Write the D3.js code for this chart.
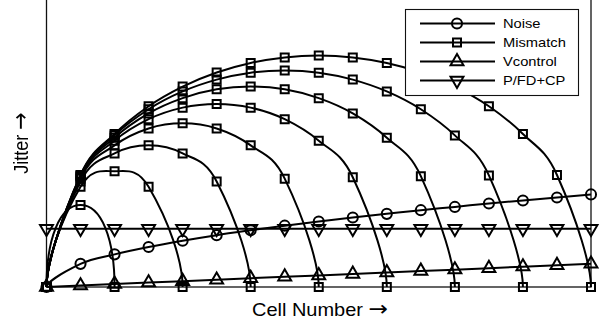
<!DOCTYPE html>
<meta charset="utf-8">
<style>
  body { margin: 0; background: #fff; }
  text { font-family: "Liberation Sans", Arial, Helvetica, sans-serif; fill: #000; }
  .arrow { font-family: "DejaVu Sans", sans-serif; }
</style>
<body></body>
<script src="https://cdn.jsdelivr.net/npm/d3@7"></script>
<script>

const width = 607;
const height = 325;

// cell index along the ring
const cells = [0, 1, 2, 3, 4, 5, 6, 7, 8, 9, 10, 11, 12, 13, 14, 15, 16];

// jitter contributions (arbitrary units)
const noise    = [0, 1.00, 1.41, 1.73, 2.00, 2.24, 2.45, 2.65, 2.83, 3.00, 3.16, 3.32, 3.46, 3.61, 3.74, 3.87, 4.00];
const vcontrol = [0, 0.06, 0.13, 0.19, 0.25, 0.31, 0.38, 0.44, 0.50, 0.56, 0.63, 0.69, 0.75, 0.81, 0.88, 0.94, 1.00];
const pfdcp    = [2.52, 2.52, 2.52, 2.52, 2.52, 2.52, 2.52, 2.52, 2.52, 2.52, 2.52, 2.52, 2.52, 2.52, 2.52, 2.52, 2.52];

// mismatch, one arc per ring length (2, 4, ... 16 cells)
const mismatch2  = [0, 3.54, 0];
const mismatch4  = [0, 4.33, 5.00, 4.33, 0];
const mismatch6  = [0, 4.56, 5.77, 6.12, 5.77, 4.56, 0];
const mismatch8  = [0, 4.68, 6.12, 6.85, 7.07, 6.85, 6.12, 4.68, 0];
const mismatch10 = [0, 4.74, 6.32, 7.25, 7.75, 7.91, 7.75, 7.25, 6.32, 4.74, 0];
const mismatch12 = [0, 4.79, 6.45, 7.50, 8.16, 8.54, 8.66, 8.54, 8.16, 7.50, 6.45, 4.79, 0];
const mismatch14 = [0, 4.82, 6.55, 7.68, 8.45, 8.96, 9.26, 9.35, 9.26, 8.96, 8.45, 7.68, 6.55, 4.82, 0];
const mismatch16 = [0, 4.84, 6.61, 7.81, 8.66, 9.27, 9.68, 9.92, 10.00, 9.92, 9.68, 9.27, 8.66, 7.81, 6.61, 4.84, 0];
const mismatch = [mismatch2, mismatch4, mismatch6, mismatch8, mismatch10, mismatch12, mismatch14, mismatch16];

const legendNames = ["Noise", "Mismatch", "Vcontrol", "P/FD+CP"];

const x = d3.scaleLinear().domain([0, 16]).range([46.5, 591]);
const y = d3.scaleLinear().domain([0, 12.4]).range([287, 0]);

const svg = d3.select("body").append("svg")
    .attr("width", width)
    .attr("height", height);

// plain pass-through filter, keeps the rotated title greyscale-antialiased
svg.append("defs").append("filter")
    .attr("id", "flat")
  .append("feColorMatrix")
    .attr("type", "identity");

// frame
svg.append("rect")
    .attr("x", x(0))
    .attr("y", -5)
    .attr("width", x(16) - x(0))
    .attr("height", y(0) + 5)
    .attr("fill", "none")
    .attr("stroke", "#111")
    .attr("stroke-width", 1.3);

// smooth curve through the points; optional vertical tangent at either end
function smoothPath(pts, vStart, vEnd) {
  const p = d3.path();
  const n = pts.length;
  const k = 0.6;
  const m = pts.map((q, i) => {
    const a = pts[Math.max(i - 1, 0)], b = pts[Math.min(i + 1, n - 1)];
    const s = (i === 0 || i === n - 1) ? 1 : 0.5;
    return [(b[0] - a[0]) * s, (b[1] - a[1]) * s];
  });
  const cubic = (a, c, b) => p.bezierCurveTo(
    a[0] + k * (c[0] - a[0]), a[1] + k * (c[1] - a[1]),
    b[0] + k * (c[0] - b[0]), b[1] + k * (c[1] - b[1]),
    b[0], b[1]);
  p.moveTo(pts[0][0], pts[0][1]);
  for (let i = 0; i < n - 1; i++) {
    const a = pts[i], b = pts[i + 1];
    if (i === 0 && vStart) {
      const t = (b[0] - a[0]) / m[i + 1][0];
      cubic(a, [a[0], b[1] - m[i + 1][1] * t], b);
    } else if (i === n - 2 && vEnd) {
      const t = (b[0] - a[0]) / m[i][0];
      cubic(a, [b[0], a[1] + m[i][1] * t], b);
    } else {
      p.bezierCurveTo(a[0] + m[i][0] / 3, a[1] + m[i][1] / 3,
                      b[0] - m[i + 1][0] / 3, b[1] - m[i + 1][1] / 3, b[0], b[1]);
    }
  }
  return p.toString();
}

const toPts = vals => vals.map((v, i) => [x(cells[i]), y(v)]);
const straight = d3.line().x((d, i) => x(cells[i])).y(d => y(d));

const lines = svg.append("g")
    .attr("fill", "none")
    .attr("stroke", "#000")
    .attr("stroke-width", 2);

lines.selectAll(".mm")
  .data(mismatch)
  .join("path")
    .attr("d", d => smoothPath(toPts(d), true, true));

lines.append("path").attr("d", smoothPath(toPts(noise), true, false));
lines.append("path").attr("d", straight(vcontrol));
lines.append("path").attr("d", straight(pfdcp));

// marker shapes
const sym = {
  circle: d3.symbol().type(d3.symbolCircle).size(80),
  square: d3.symbol().type(d3.symbolSquare).size(64),
  up:     d3.symbol().type(d3.symbolTriangle).size(72)
};

function markers(vals, shape, rot) {
  svg.append("g")
      .attr("fill", "none")
      .attr("stroke", "#000")
      .attr("stroke-width", 2)
    .selectAll("path")
    .data(vals)
    .join("path")
      .attr("d", sym[shape]())
      .attr("transform", (d, i) => `translate(${x(cells[i])},${y(d)})${rot ? " rotate(180)" : ""}`);
}

mismatch.forEach(a => markers(a, "square"));
markers(noise, "circle");
markers(vcontrol, "up");
markers(pfdcp, "up", true);

// legend
const lg = svg.append("g");
lg.append("rect")
    .attr("x", 405.5).attr("y", 9.5)
    .attr("width", 173).attr("height", 86)
    .attr("fill", "#fff")
    .attr("stroke", "#111")
    .attr("stroke-width", 1.1);

const legendShapes = [["circle", false], ["square", false], ["up", false], ["up", true]];
legendNames.forEach((name, i) => {
  const ly = 23.5 + i * 19;
  lg.append("line")
      .attr("x1", 420).attr("x2", 495)
      .attr("y1", ly).attr("y2", ly)
      .attr("stroke", "#000").attr("stroke-width", 2);
  lg.append("path")
      .attr("d", sym[legendShapes[i][0]]())
      .attr("transform", `translate(457,${ly})${legendShapes[i][1] ? " rotate(180)" : ""}`)
      .attr("fill", "none").attr("stroke", "#000").attr("stroke-width", 2);
  lg.append("text")
      .attr("transform", `translate(503,${ly + 4.7}) scale(1.13,1)`)
      .attr("font-size", 13)
      .text(name);
});

// axis titles
const xt = svg.append("text")
    .attr("transform", "translate(320,316) scale(1.11,1)")
    .attr("text-anchor", "middle")
    .attr("font-size", 18);
xt.append("tspan").text("Cell Number ");
xt.append("tspan").attr("class", "arrow").attr("font-size", 21).text("\u2192");

const yt = svg.append("g")
    .attr("filter", "url(#flat)")
  .append("text")
    .attr("transform", "translate(28,143) rotate(-90) scale(1,1.12)")
    .attr("text-anchor", "middle")
    .attr("font-size", 18);
yt.append("tspan").text("Jitter ");
yt.append("tspan").attr("class", "arrow").attr("font-size", 21).text("\u2192");

</script>
